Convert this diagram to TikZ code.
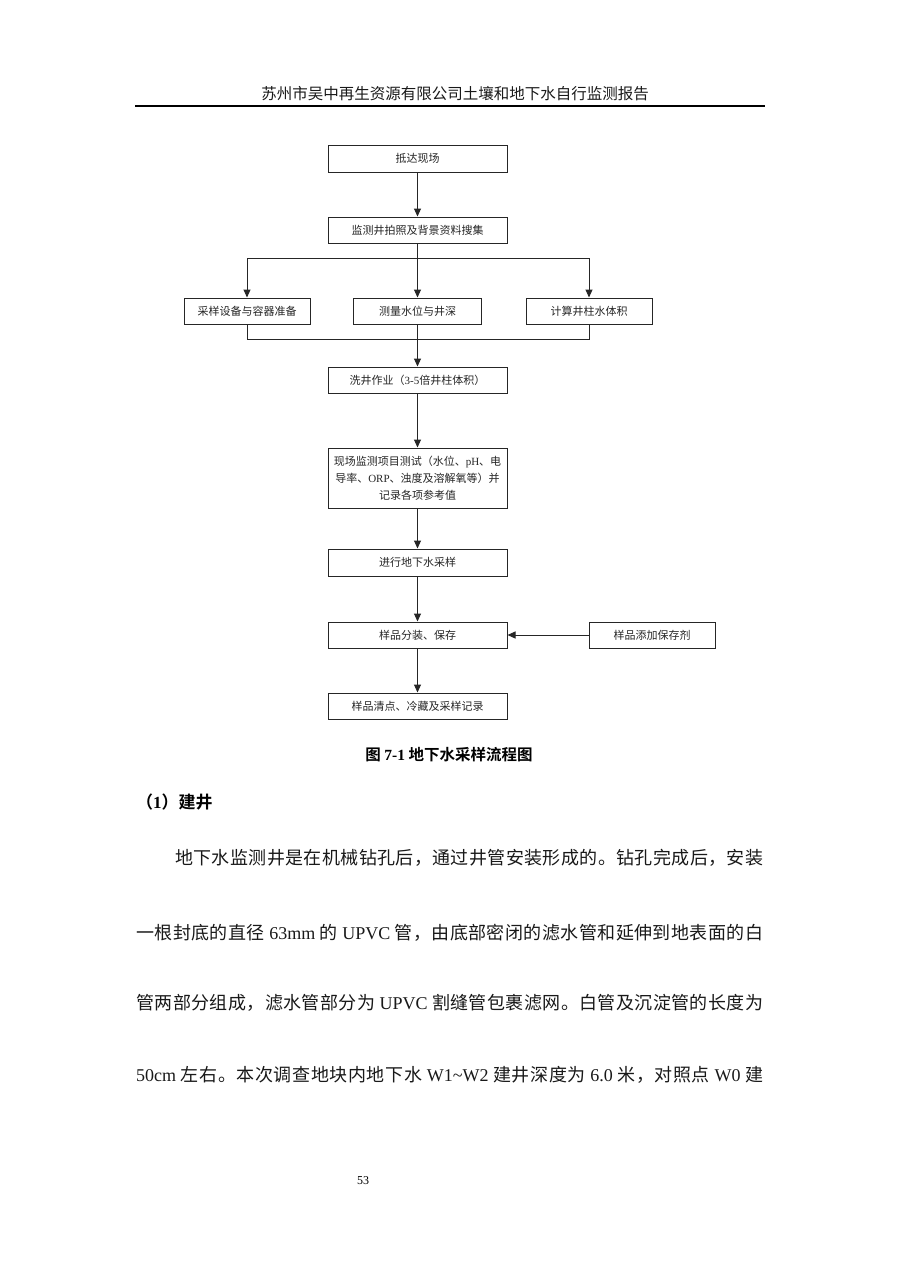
\documentclass[tikz,border=0pt]{standalone}
\usepackage{fontspec}
\setmainfont{Liberation Serif}
\newfontfamily\cjk{Noto Sans CJK SC}[BoldFont={Noto Sans CJK SC Bold}]
\usetikzlibrary{arrows.meta}
\newcommand\La[1]{{\rmfamily #1}}
\newcommand\Send{SEND}
\def\Sp#1{\ifx#1\Send\else\hskip0pt plus 1fil\relax#1\expandafter\Sp\fi}
\def\Spread#1{#1\Sp}
\begin{document}
\begin{tikzpicture}[x=1pt,y=-1pt,
 box/.style={draw=black!85, line width=1pt, inner sep=0pt, minimum height=26pt, font=\cjk\fontsize{11}{17}\selectfont, text=black!85},
 arr/.style={line width=1pt, draw=black!85, -{Triangle[width=7pt,length=8pt]}},
 ln/.style={line width=1pt, draw=black!85},
 para/.style={inner sep=0pt, anchor=west, font=\cjk\fontsize{18}{22}\selectfont, text=black!90}
]
\fill[white] (0,0) rectangle (900,1272);
\useasboundingbox (0,0) rectangle (900,1272);

% header
\node[font=\cjk\fontsize{15.5}{18}\selectfont, inner sep=0pt, text=black!90] (hd) at (455,94) {苏州市吴中再生资源有限公司土壤和地下水自行监测报告};
\coordinate (r1) at (135,106);
\coordinate (r2) at (765,106);
\draw[line width=1.5pt] (r1) -- (r2);

% boxes
\node[box, minimum width=179pt, minimum height=27pt] (a1) at (417.5,158.5) {抵达现场};
\node[box, minimum width=179pt] (a2) at (417.5,230) {监测井拍照及背景资料搜集};
\node[box, minimum width=126pt] (b1) at (247,311) {采样设备与容器准备};
\node[box, minimum width=128pt] (b2) at (417.5,311) {测量水位与井深};
\node[box, minimum width=126pt] (b3) at (589,311) {计算井柱水体积};
\node[box, minimum width=179pt] (c1) at (417.5,380) {洗井作业（\La{3-5}倍井柱体积）};
\node[box, minimum width=179pt, minimum height=60pt, align=center] (c2) at (417.5,478) {现场监测项目测试（水位、\La{pH}、电\\导率、\La{ORP}、浊度及溶解氧等）并\\记录各项参考值};
\node[box, minimum width=179pt, minimum height=27pt] (c3) at (417.5,562.5) {进行地下水采样};
\node[box, minimum width=179pt] (c4) at (417.5,635) {样品分装、保存};
\node[box, minimum width=126pt] (sd) at (652,635) {样品添加保存剂};
\node[box, minimum width=179pt] (c5) at (417.5,706) {样品清点、冷藏及采样记录};

% connectors
\coordinate (j1) at (417.5,258);
\coordinate (j2) at (417.5,339);
\draw[arr] (a1) -- (a2);
\draw[arr] (a2) -- (b2);
\draw[arr] (j1) -| (b1.north);
\draw[arr] (j1) -| (b3.north);
\draw[ln] (b1.south) |- (j2);
\draw[ln] (b3.south) |- (j2);
\draw[arr] (b2) -- (c1);
\draw[arr] (c1) -- (c2);
\draw[arr] (c2) -- (c3);
\draw[arr] (c3) -- (c4);
\draw[arr] (c4) -- (c5);
\draw[arr] (sd) -- (c4);

% caption
\node[font=\cjk\bfseries\fontsize{15.5}{18}\selectfont, inner sep=0pt] (cap) at (449,755) {图 \La{7-1} 地下水采样流程图};

% heading
\node[font=\cjk\bfseries\fontsize{17}{20}\selectfont, anchor=west, inner sep=0pt] (h1) at (136,802) {（\La{1}）建井};

% paragraph
\node[para] (p1) at (175,858) {\hbox to 588pt{\Spread 地下水监测井是在机械钻孔后，通过井管安装形成的。钻孔完成后，安装\Send}};
\node[para] (p2) at (136,933) {\hbox to 627pt{\Spread 一根封底的直径{ \La{63mm} }的{ \La{UPVC} }管，由底部密闭的滤水管和延伸到地表面的白\Send}};
\node[para] (p3) at (136,1003) {\hbox to 627pt{\Spread 管两部分组成，滤水管部分为{ \La{UPVC} }割缝管包裹滤网。白管及沉淀管的长度为\Send}};
\node[para] (p4) at (136,1075) {\hbox to 627pt{\Spread {\La{50cm} }左右。本次调查地块内地下水{ \La{W1\char"7E W2} }建井深度为{ \La{6.0} }米，对照点{ \La{W0} }建\Send}};

% page number
\node[font=\fontsize{12}{14}\selectfont, inner sep=0pt] (pg) at (363,1181) {53};
\end{tikzpicture}
\end{document}
